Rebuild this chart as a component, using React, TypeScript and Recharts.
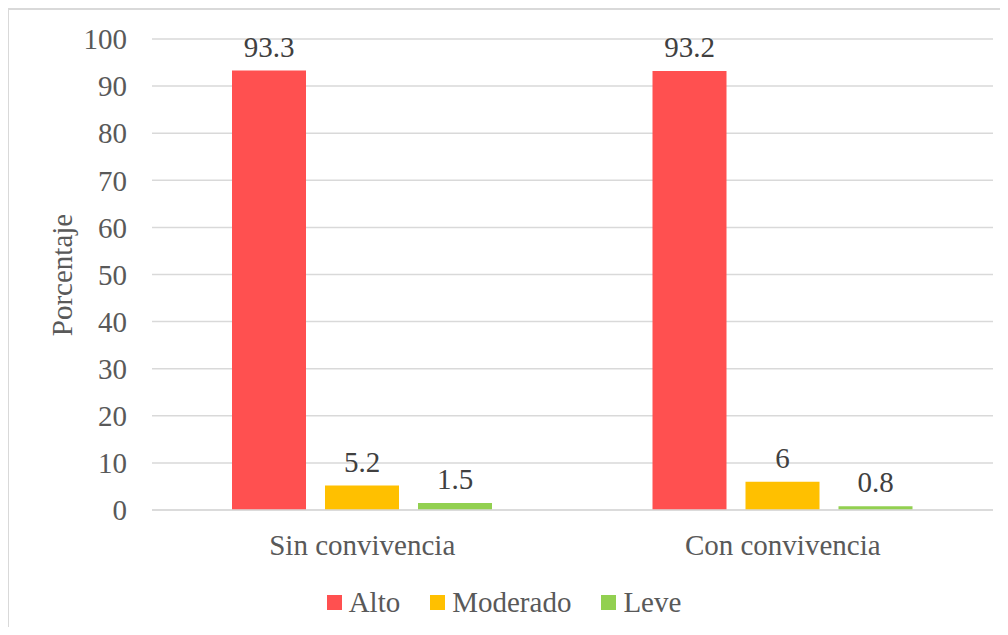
import React from "react"
import { BarChart, Bar, XAxis, YAxis, CartesianGrid, Legend, LabelList, Label } from "recharts"

const groups = ["Sin convivencia", "Con convivencia"]
const alto = [93.3, 93.2]
const moderado = [5.2, 6]
const leve = [1.5, 0.8]
const yTicks = [0, 10, 20, 30, 40, 50, 60, 70, 80, 90, 100]

const series = [
  { key: "alto", name: "Alto", color: "#FF5050" },
  { key: "moderado", name: "Moderado", color: "#FFC000" },
  { key: "leve", name: "Leve", color: "#92D050" },
]

const data = groups.map((g, i) => ({
  group: g,
  alto: alto[i],
  moderado: moderado[i],
  leve: leve[i],
}))

const FONT = "Liberation Serif"
const SIZE = 29
const TICK = "#595959"

const LegendRow = () => (
  <div style={{ display: "flex", justifyContent: "center", alignItems: "center", gap: 30 }}>
    {series.map((s) => (
      <div key={s.key} style={{ display: "flex", alignItems: "center", gap: 7 }}>
        <div style={{ width: 15, height: 15, background: s.color }} />
        <span style={{ fontFamily: FONT, fontSize: SIZE, color: TICK }}>{s.name}</span>
      </div>
    ))}
  </div>
)

export default function App() {
  return (
    <div style={{ margin: -8, width: 1008, height: 635, position: "relative" }}>
      {/* thin frame around the chart area */}
      <div
        style={{
          position: "absolute",
          left: 7,
          top: 8,
          right: -10,
          bottom: -10,
          borderLeft: "2px solid #d9d9d9",
          borderTop: "2px solid #d9d9d9",
        }}
      />
      <BarChart
        width={1008}
        height={635}
        data={data}
        margin={{ top: 39, right: 15, left: 0, bottom: 0 }}
        barCategoryGap={80}
        barGap={19}
      >
        <CartesianGrid vertical={false} stroke="#d9d9d9" strokeWidth={1.5} />
        <XAxis
          dataKey="group"
          height={125}
          axisLine={{ stroke: "#d9d9d9", strokeWidth: 1.5 }}
          tickLine={false}
          tickSize={0}
          tickMargin={24}
          tick={{ fontFamily: FONT, fontSize: SIZE, fill: TICK }}
        />
        <YAxis
          width={152}
          domain={[0, 100]}
          ticks={yTicks}
          axisLine={false}
          tickLine={false}
          tickSize={0}
          tickMargin={25}
          tick={{ fontFamily: FONT, fontSize: SIZE, fill: TICK }}
        >
          <Label
            content={() => (
              <text
                x={62}
                y={275}
                transform="rotate(-90 62 275)"
                textAnchor="middle"
                dominantBaseline="central"
                fontFamily={FONT}
                fontSize={SIZE}
                fill={TICK}
              >
                Porcentaje
              </text>
            )}
          />
        </YAxis>
        <Legend
          verticalAlign="middle"
          align="center"
          layout="horizontal"
          wrapperStyle={{ top: 586, left: 0, width: 1008 }}
          content={() => <LegendRow />}
        />
        {series.map((s) => (
          <Bar key={s.key} dataKey={s.key} name={s.name} fill={s.color} isAnimationActive={false}>
            <LabelList
              dataKey={s.key}
              position="top"
              offset={14}
              fontFamily={FONT}
              fontSize={SIZE}
              fill="#404040"
            />
          </Bar>
        ))}
      </BarChart>
    </div>
  )
}
